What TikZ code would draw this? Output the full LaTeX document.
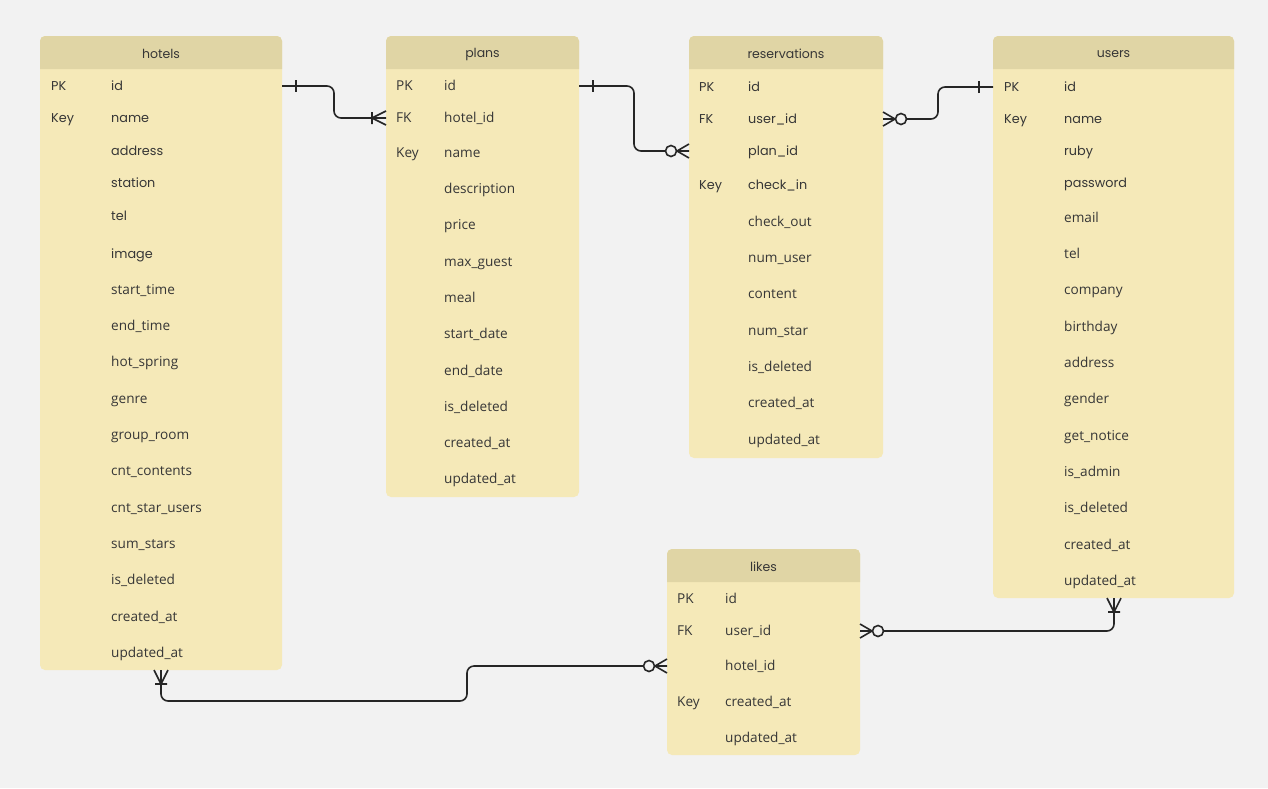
\documentclass[tikz,border=0pt]{standalone}
\usepackage{fontspec}
\setmainfont{Open Sans}
\newfontfamily\popfont{Poppins}
\definecolor{bg}{HTML}{F2F2F2}
\definecolor{headc}{HTML}{E0D5A5}
\definecolor{bodyc}{HTML}{F5E9B8}
\definecolor{txt}{HTML}{363636}
\definecolor{linec}{HTML}{262626}
\newcommand\fP{\popfont\fontsize{12.8}{15}\selectfont}
\newcommand\fO{\fontsize{13.6}{15}\selectfont}
\tikzset{
  conn/.style={draw=linec, line width=1.6pt},
  cell/.style={anchor=mid west, inner sep=0pt, text=txt, yshift=-2pt},
  ttl/.style={inner sep=0pt, text=txt, font=\popfont\fontsize{12.5}{15}\selectfont},
}
% table frame: #1 name, #2 x0, #3 x1, #4 ytop, #5 ybottom, #6 title
\newcommand\ertable[6]{%
  \fill[bodyc, rounded corners=5pt] (#2,#4) rectangle (#3,#5);
  \fill[headc] (#2,#4+33) [rounded corners=5pt] -- (#2,#4) -- (#3,#4) [sharp corners] -- (#3,#4+33) -- cycle;
  \node[ttl] (#1-title) at ({(#2+#3)/2},#4+18) {#6};
}
% markers: #1 point at table edge, #2 outward direction angle
\newcommand\mone[2]{\draw[conn,shift={(#1)},rotate=#2] (14,-6) -- (14,6);}
\newcommand\mmany[2]{\draw[conn,shift={(#1)},rotate=#2] (14,-6) -- (14,6) (0,7) -- (14,0) -- (0,-7);}
\newcommand\mzmany[2]{\draw[conn,shift={(#1)},rotate=#2] (0,7) -- (12,0) -- (0,-7);
  \draw[conn,fill=bg,shift={(#1)},rotate=#2] (18,0) circle (5.5);}
\begin{document}
\begin{tikzpicture}[x=1pt,y=-1pt]
\fill[bg] (0,0) rectangle (1268,788);
\useasboundingbox (0,0) rectangle (1268,788);

% hotels
\ertable{hotels}{40}{282}{36}{670}{hotels}
\foreach \y/\k/\f/\ft [count=\i] in {86/PK/id/P, 118/Key/name/P, 151//address/P, 183//station/P, 216//tel/P, 254//image/P, 290//start\_time/O, 326//end\_time/O, 362//hot\_spring/O, 399//genre/O, 435//group\_room/O, 471//cnt\_contents/O, 508//cnt\_star\_users/O, 544//sum\_stars/O, 580//is\_deleted/O, 617//created\_at/O, 653//updated\_at/O}{
  \node[cell, font=\csname f\ft\endcsname] (hotels-k\i) at (51,\y) {\k};
  \node[cell, font=\csname f\ft\endcsname] (hotels-f\i) at (111,\y) {\f};
  \coordinate (hotels-r\i-w) at (40,\y);
  \coordinate (hotels-r\i-e) at (282,\y);
}
\coordinate (hotels-bot) at (161,670);

% plans
\ertable{plans}{386}{579}{36}{497}{plans}
\foreach \y/\k/\f/\ft [count=\i] in {86/PK/id/O, 118/FK/hotel\_id/O, 153/Key/name/O, 189//description/O, 225//price/O, 262//max\_guest/O, 298//meal/O, 334//start\_date/O, 371//end\_date/O, 407//is\_deleted/O, 443//created\_at/O, 479//updated\_at/O}{
  \node[cell, font=\csname f\ft\endcsname] (plans-k\i) at (396,\y) {\k};
  \node[cell, font=\csname f\ft\endcsname] (plans-f\i) at (444,\y) {\f};
  \coordinate (plans-r\i-w) at (386,\y);
  \coordinate (plans-r\i-e) at (579,\y);
}

% reservations
\ertable{res}{689}{883}{36}{458}{reservations}
\foreach \y/\k/\f/\ft [count=\i] in {87/PK/id/P, 119/FK/user\_id/P, 151//plan\_id/P, 185/Key/check\_in/P, 222//check\_out/O, 258//num\_user/O, 294//content/O, 331//num\_star/O, 367//is\_deleted/O, 403//created\_at/O, 440//updated\_at/O}{
  \node[cell, font=\csname f\ft\endcsname] (res-k\i) at (699,\y) {\k};
  \node[cell, font=\csname f\ft\endcsname] (res-f\i) at (748,\y) {\f};
  \coordinate (res-r\i-w) at (689,\y);
  \coordinate (res-r\i-e) at (883,\y);
}

% users
\ertable{users}{993}{1234}{36}{598}{users}
\foreach \y/\k/\f/\ft [count=\i] in {87/PK/id/P, 119/Key/name/P, 151//ruby/P, 183//password/P, 218//email/O, 254//tel/O, 290//company/O, 327//birthday/O, 363//address/O, 399//gender/O, 436//get\_notice/O, 472//is\_admin/O, 508//is\_deleted/O, 545//created\_at/O, 581//updated\_at/O}{
  \node[cell, font=\csname f\ft\endcsname] (users-k\i) at (1004,\y) {\k};
  \node[cell, font=\csname f\ft\endcsname] (users-f\i) at (1064,\y) {\f};
  \coordinate (users-r\i-w) at (993,\y);
  \coordinate (users-r\i-e) at (1234,\y);
}
\coordinate (users-bot) at (1114,598);

% likes
\ertable{likes}{667}{860}{549}{755}{likes}
\foreach \y/\k/\f/\ft [count=\i] in {599/PK/id/O, 631/FK/user\_id/O, 666//hotel\_id/O, 702/Key/created\_at/O, 738//updated\_at/O}{
  \node[cell, font=\csname f\ft\endcsname] (likes-k\i) at (677,\y) {\k};
  \node[cell, font=\csname f\ft\endcsname] (likes-f\i) at (725,\y) {\f};
  \coordinate (likes-r\i-w) at (667,\y);
  \coordinate (likes-r\i-e) at (860,\y);
}

% connectors
\draw[conn, rounded corners=7pt] (hotels-r1-e) -- ++(52,0) |- (plans-r2-w);
\mone{hotels-r1-e}{0}
\mmany{plans-r2-w}{180}

\draw[conn, rounded corners=7pt] (plans-r1-e) -- ++(55,0) |- (res-r3-w);
\mone{plans-r1-e}{0}
\mzmany{res-r3-w}{180}

\draw[conn, rounded corners=7pt] (users-r1-w) -- ++(-55,0) |- (res-r2-e);
\mone{users-r1-w}{180}
\mzmany{res-r2-e}{0}

\draw[conn, rounded corners=7pt] (users-bot) |- (likes-r2-e);
\mmany{users-bot}{-90}
\mzmany{likes-r2-e}{0}

\coordinate (mid5) at (467,701);
\draw[conn, rounded corners=7pt] (hotels-bot) |- (mid5) |- (likes-r3-w);
\mmany{hotels-bot}{-90}
\mzmany{likes-r3-w}{180}
\end{tikzpicture}
\end{document}
